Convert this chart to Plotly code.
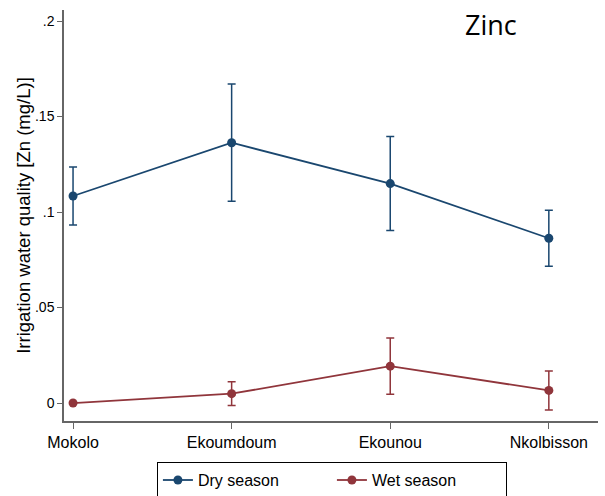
import plotly.graph_objects as go

sites = ["Mokolo", "Ekoumdoum", "Ekounou", "Nkolbisson"]
dry_mean = [0.1084, 0.1363, 0.1149, 0.0863]
dry_err = [0.0152, 0.0307, 0.0246, 0.0147]
wet_mean = [0.0000, 0.0049, 0.0193, 0.0066]
wet_err = [0.0, 0.0062, 0.0147, 0.0102]
y_ticks = [0, 0.05, 0.1, 0.15, 0.2]
y_ticktext = ["0", ".05", ".1", ".15", ".2"]

navy = "#1a476f"
maroon = "#90353b"

fig = go.Figure()
for name, m, e, c in [("Dry season", dry_mean, dry_err, navy),
                      ("Wet season", wet_mean, wet_err, maroon)]:
    fig.add_trace(go.Scatter(
        x=list(range(len(sites))), y=m, name=name, mode="lines+markers",
        line=dict(color=c, width=1.8),
        marker=dict(color=c, size=9),
        error_y=dict(type="data", array=e, visible=True, color=c,
                     thickness=1.5, width=4),
    ))

fig.update_layout(
    width=605, height=496,
    margin=dict(l=64, r=7, t=10, b=75, autoexpand=False),
    paper_bgcolor="white", plot_bgcolor="white",
    font=dict(family="Liberation Sans, Arial, sans-serif", color="black", size=16),
    showlegend=True,
    legend=dict(orientation="h", x=0.174, xanchor="left", y=-0.10, yanchor="top",
                bordercolor="black", borderwidth=1, font=dict(size=16),
                entrywidth=129, tracegroupgap=0),
    xaxis=dict(tickmode="array", tickvals=list(range(len(sites))), ticktext=sites,
               range=[-0.057, 3.31], showgrid=False, zeroline=False,
               showline=True, linecolor="#666666", linewidth=1.5,
               ticks="outside", ticklen=6, tickcolor="#666666",
               tickfont=dict(size=16), automargin=False),
    yaxis=dict(tickmode="array", tickvals=y_ticks, ticktext=y_ticktext,
               range=[-0.0094, 0.2058], showgrid=False, zeroline=False,
               showline=True, linecolor="#666666", linewidth=1.5,
               ticks="outside", ticklen=5, tickcolor="#666666",
               tickfont=dict(size=14), automargin=False,
               title=dict(text="Irrigation water quality [Zn (mg/L)]",
                          font=dict(size=18.5), standoff=0)),
    annotations=[dict(text="Zinc", x=0.80, y=0.965, xref="paper", yref="paper",
                      xanchor="center", yanchor="middle", showarrow=False,
                      font=dict(family="Open Sans", size=27, color="black"))],
)

fig.write_html("out.html", config={"displayModeBar": False},
               post_script="document.body.style.margin='0';document.body.style.padding='0';")
